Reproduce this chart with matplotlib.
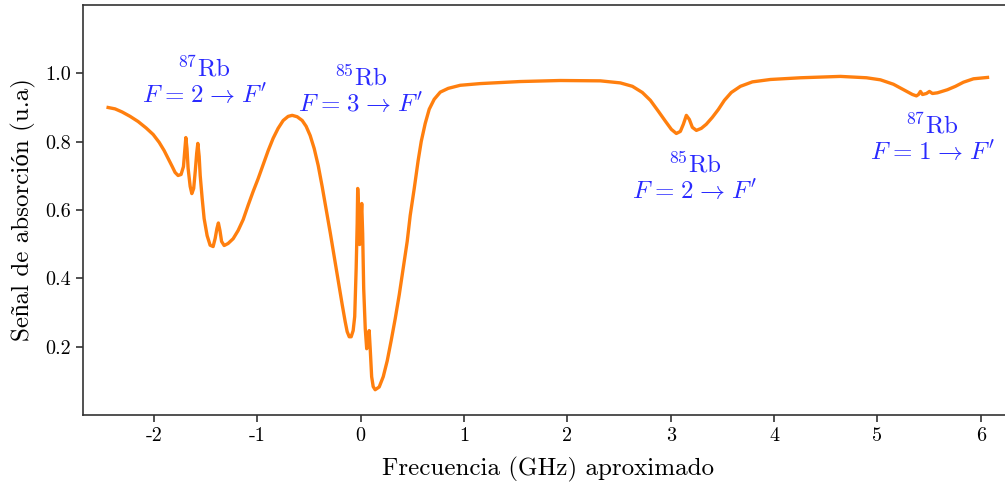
import matplotlib
matplotlib.use("Agg")
import matplotlib.pyplot as plt

plt.rcParams['font.family'] = ['cmr10', 'Liberation Serif', 'DejaVu Serif']
plt.rcParams['mathtext.fontset'] = 'cm'
plt.rcParams['axes.unicode_minus'] = False
plt.rcParams['axes.formatter.use_mathtext'] = True

freq = [-2.444, -2.377, -2.309, -2.231, -2.154, -2.076, -2.008, -1.950, -1.902, -1.863,
        -1.825, -1.796, -1.767, -1.738, -1.715, -1.701, -1.692, -1.681, -1.670, -1.650,
        -1.634, -1.616, -1.601, -1.587, -1.576, -1.563, -1.553, -1.534, -1.515, -1.486,
        -1.457, -1.428, -1.408, -1.391, -1.377, -1.362, -1.346, -1.321, -1.283, -1.234,
        -1.186, -1.137, -1.089, -1.041, -0.992, -0.944, -0.895, -0.847, -0.799, -0.750,
        -0.702, -0.663, -0.615, -0.566, -0.528, -0.489, -0.450, -0.411, -0.373, -0.334,
        -0.295, -0.256, -0.218, -0.179, -0.150, -0.131, -0.111, -0.092, -0.073, -0.058,
        -0.044, -0.034, -0.029, -0.019, -0.010, 0.000, 0.010, 0.019, 0.029, 0.044,
        0.058, 0.073, 0.082, 0.092, 0.106, 0.121, 0.140, 0.179, 0.218, 0.257,
        0.295, 0.334, 0.373, 0.411, 0.450, 0.479, 0.518, 0.556, 0.586, 0.624,
        0.663, 0.711, 0.770, 0.847, 0.963, 1.157, 1.544, 1.931, 2.319, 2.512,
        2.629, 2.725, 2.803, 2.880, 2.948, 3.006, 3.054, 3.093, 3.122, 3.151,
        3.180, 3.209, 3.248, 3.296, 3.344, 3.402, 3.460, 3.519, 3.586, 3.674,
        3.790, 3.964, 4.255, 4.642, 4.895, 5.029, 5.155, 5.271, 5.339, 5.377,
        5.397, 5.416, 5.436, 5.474, 5.503, 5.532, 5.581, 5.677, 5.755, 5.832,
        5.929, 6.065]
signal = [0.900, 0.896, 0.887, 0.874, 0.859, 0.840, 0.821, 0.798, 0.774, 0.751,
          0.728, 0.710, 0.701, 0.704, 0.727, 0.780, 0.812, 0.780, 0.722, 0.669,
          0.648, 0.663, 0.713, 0.766, 0.795, 0.757, 0.701, 0.634, 0.575, 0.525,
          0.497, 0.493, 0.517, 0.546, 0.562, 0.540, 0.508, 0.496, 0.502, 0.516,
          0.540, 0.572, 0.614, 0.654, 0.692, 0.733, 0.774, 0.810, 0.839, 0.862,
          0.874, 0.877, 0.873, 0.862, 0.845, 0.818, 0.780, 0.730, 0.669, 0.601,
          0.534, 0.463, 0.393, 0.323, 0.273, 0.244, 0.229, 0.229, 0.247, 0.288,
          0.428, 0.560, 0.663, 0.590, 0.499, 0.560, 0.619, 0.531, 0.370, 0.253,
          0.194, 0.209, 0.247, 0.194, 0.112, 0.083, 0.074, 0.082, 0.112, 0.159,
          0.218, 0.282, 0.352, 0.429, 0.508, 0.584, 0.663, 0.745, 0.801, 0.853,
          0.895, 0.924, 0.945, 0.956, 0.965, 0.970, 0.976, 0.979, 0.978, 0.972,
          0.962, 0.944, 0.921, 0.889, 0.860, 0.836, 0.824, 0.830, 0.851, 0.877,
          0.865, 0.842, 0.833, 0.839, 0.851, 0.871, 0.894, 0.921, 0.944, 0.962,
          0.975, 0.982, 0.987, 0.991, 0.987, 0.981, 0.968, 0.949, 0.938, 0.934,
          0.938, 0.947, 0.938, 0.941, 0.947, 0.941, 0.943, 0.952, 0.962, 0.974,
          0.984, 0.988]

sp = r"\hspace{0.1}"
labels = [r"$^{87}$Rb" "\n" rf"$F{sp}={sp}2{sp}\rightarrow{sp}F'$",
          r"$^{85}$Rb" "\n" rf"$F{sp}={sp}3{sp}\rightarrow{sp}F'$",
          r"$^{85}$Rb" "\n" rf"$F{sp}={sp}2{sp}\rightarrow{sp}F'$",
          r"$^{87}$Rb" "\n" rf"$F{sp}={sp}1{sp}\rightarrow{sp}F'$"]
label_x = [-1.515, 0.0, 3.23, 5.53]
label_y = [0.975, 0.95, 0.695, 0.808]

fig = plt.figure(figsize=(10.05, 4.83), dpi=100)
ax = fig.add_axes([83/1005, 68/483, 935/1005, 410/483])
ax.plot(freq, signal, color='#ff7f0e', lw=2.4)
for t, x, y in zip(labels, label_x, label_y):
    ax.text(x, y, t, color='#2a2aff', fontsize=18, ha='center', va='center',
            linespacing=1.1)
ax.set_xlim(-2.687, 6.36)
ax.set_ylim(0, 1.2)
ax.set_xticks([-2, -1, 0, 1, 2, 3, 4, 5, 6])
ax.set_xticklabels(['-2', '-1', '0', '1', '2', '3', '4', '5', '6'])
ax.set_yticks([0.2, 0.4, 0.6, 0.8, 1.0])
ax.set_yticklabels(['0.2', '0.4', '0.6', '0.8', '1.0'])
ax.tick_params(labelsize=14.5, color='#333333', width=1.2, length=5)
for s in ax.spines.values():
    s.set_color('#333333')
    s.set_linewidth(1.2)
ax.set_xlabel('Frecuencia (GHz) aproximado', fontsize=18)
ax.set_ylabel('Señal de absorción (u.a)', fontsize=18)
ax.xaxis.set_label_coords(0.497, -0.102)
ax.yaxis.set_label_coords(-0.050, 0.5)
fig.savefig('out.png', dpi=100)
